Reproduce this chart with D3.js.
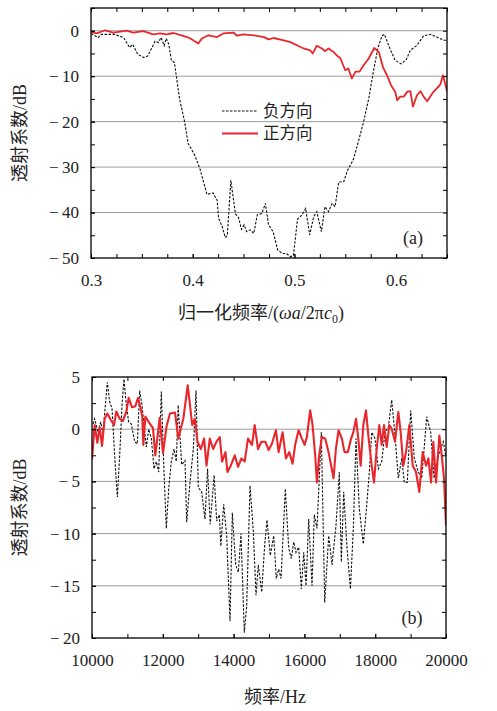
<!DOCTYPE html>
<html>
<head>
<meta charset="utf-8">
<script src="https://cdn.jsdelivr.net/npm/d3@7"></script>
<style>
  body { margin: 0; background: #fff; }
  svg { display: block; }
  text { font-family: "Liberation Serif", "DejaVu Serif", serif; fill: #222; }
  .cjk { font-family: "Noto Sans CJK SC", sans-serif; }
</style>
</head>
<body>
<svg></svg>
<script>
var width = 497,
    height = 711;

// panel (a): normalised frequency vs transmission (dB)
var negA = [[0.300,-0.6],[0.307,-1.5],[0.310,-0.8],[0.323,-0.8],[0.332,-1.5],[0.338,-3.7],[0.341,-3.0],
  [0.346,-5.2],[0.352,-5.9],[0.356,-5.5],[0.363,-2.3],[0.366,-2.6],[0.369,-1.5],[0.372,-3.3],[0.374,-1.7],
  [0.3765,-3.0],[0.379,-6.5],[0.382,-7.0],[0.387,-14.9],[0.392,-20],[0.3955,-24.8],[0.402,-27.4],
  [0.407,-30.3],[0.414,-36],[0.420,-35.7],[0.424,-37.3],[0.4255,-41.3],[0.429,-43.1],[0.432,-45.5],
  [0.434,-45.1],[0.4375,-32.9],[0.442,-40.3],[0.445,-41.1],[0.448,-43.7],[0.4505,-42.7],[0.453,-44.2],
  [0.4565,-43.8],[0.460,-44.6],[0.4635,-40.5],[0.468,-40.2],[0.4715,-38],[0.4745,-42.7],[0.479,-44.2],
  [0.4835,-48.2],[0.488,-49],[0.492,-49],[0.496,-49.7],[0.499,-49.5],[0.503,-41.5],[0.5075,-40.5],
  [0.511,-39.1],[0.515,-44.9],[0.519,-40.9],[0.522,-39.8],[0.5265,-44.2],[0.530,-38.7],[0.5335,-39.8],
  [0.537,-38],[0.540,-38.7],[0.5435,-33.3],[0.5485,-33.2],[0.552,-30.8],[0.558,-28.3],[0.563,-24.3],
  [0.568,-20],[0.573,-15],[0.578,-8.5],[0.582,-3.9],[0.586,-1.1],[0.5885,-0.8],[0.590,-1.7],[0.594,-4.0],
  [0.599,-6.5],[0.605,-7.3],[0.610,-6.3],[0.614,-4.3],[0.6205,-3.2],[0.627,-1.1],[0.634,-0.8],
  [0.640,-1.4],[0.647,-2.1],[0.650,-2.1]];

var posA = [[0.300,-0.3],[0.3055,-0.6],[0.314,0.1],[0.322,-0.4],[0.335,0],[0.3415,-0.4],[0.3515,-0.1],
  [0.361,-0.8],[0.368,-0.6],[0.3745,-0.8],[0.381,-0.5],[0.389,-1.0],[0.396,-1.5],[0.4005,-2.1],
  [0.4055,-2.8],[0.409,-1.7],[0.4155,-1.0],[0.424,-1.4],[0.430,-0.6],[0.440,-0.4],[0.4435,-1.1],
  [0.450,-0.8],[0.460,-1.0],[0.470,-1.4],[0.4745,-1.9],[0.4795,-1.6],[0.4895,-2.1],[0.496,-2.5],
  [0.5025,-3.2],[0.509,-3.9],[0.5155,-4.3],[0.518,-5.0],[0.522,-3.3],[0.527,-3.9],[0.530,-4.5],
  [0.5335,-3.9],[0.5385,-4.7],[0.542,-5.5],[0.545,-6.0],[0.550,-8.7],[0.553,-8.3],[0.5565,-10.5],
  [0.560,-9.0],[0.564,-9.0],[0.568,-7.6],[0.573,-6.1],[0.5785,-3.8],[0.583,-4.7],[0.587,-8.0],
  [0.591,-9.8],[0.595,-12],[0.599,-13.4],[0.601,-15.3],[0.604,-14.5],[0.6075,-14.5],[0.611,-13.4],
  [0.614,-13.3],[0.6165,-16.7],[0.6205,-14.2],[0.624,-13.3],[0.627,-14.5],[0.6305,-15.5],
  [0.6355,-13.8],[0.640,-12.7],[0.6435,-11.8],[0.646,-9.8],[0.6485,-11.9],[0.650,-13.3]];

// panel (b): frequency (Hz) vs transmission (dB)
var negB = [[10030,0.5],[10075,1.0],[10170,-0.3],[10245,0.7],[10311,-0.4],[10377,2.3],[10433,4.5],
  [10499,2.6],[10565,2.0],[10640,-2.5],[10716,-6.5],[10782,-2.5],[10848,2.3],[10904,4.8],[10970,2.3],
  [11036,0.7],[11111,0.5],[11206,-1.2],[11280,-1.4],[11347,3.7],[11413,2.3],[11469,0.4],[11535,-1.7],
  [11601,0.0],[11676,-0.9],[11752,-3.8],[11817,-3.1],[11884,-4.1],[11958,3.6],[12034,-4.1],
  [12099,-9.5],[12167,-5.7],[12240,-3.1],[12317,-1.9],[12381,-3.1],[12435,2.3],[12533,-3.4],
  [12627,-3.0],[12675,-8.9],[12768,-5.1],[12862,-1.9],[12938,3.7],[13003,-5.6],[13098,-6.0],
  [13192,-8.6],[13265,-3.8],[13340,-9.1],[13450,-4.4],[13522,-8.8],[13596,-8.2],[13640,-11.2],
  [13720,-7.2],[13804,-10.2],[13899,-18.4],[13964,-8.0],[14059,-13.0],[14134,-13.7],[14209,-10],
  [14303,-19.5],[14370,-16.9],[14464,-5.4],[14557,-9.8],[14633,-15.9],[14698,-13.0],[14794,-15.6],
  [14878,-11.1],[14944,-8.7],[15037,-12.1],[15133,-10.2],[15206,-14.3],[15274,-13.4],[15339,-14.3],
  [15461,-5.7],[15557,-11.4],[15630,-12.4],[15698,-10.8],[15763,-11.8],[15839,-11.3],[15913,-15.3],
  [15981,-11.8],[16046,-15.0],[16122,-8.6],[16215,-15.0],[16280,-8.2],[16356,-9.5],[16478,-0.3],
  [16574,-16.6],[16687,-10.2],[16780,-13.0],[16893,-9.2],[16986,-4.1],[17043,-12.7],[17110,-6.0],
  [17204,-11.4],[17300,-15.3],[17382,-9.5],[17458,-0.9],[17551,-7.6],[17664,-11.0],[17760,-7.3],
  [17834,-4.1],[17902,-0.3],[17995,-0.9],[18088,-3.8],[18184,-3.1],[18277,-0.3],[18370,0.2],
  [18467,2.8],[18560,-0.6],[18653,-4.7],[18749,-2.8],[18822,-5.1],[18907,-5.1],[19003,1.8],
  [19105,-2.8],[19218,-4.1],[19314,-4.7],[19455,1.2],[19568,-0.3],[19662,-4.7],[19783,-2.5],
  [19924,-1.2],[19990,-2.5]];

var posB = [[10000,-2.9],[10075,0.4],[10150,-1.3],[10217,0.2],[10283,-1.6],[10358,1.0],[10433,1.5],
  [10527,0.9],[10622,0.4],[10687,1.7],[10782,1.0],[10876,0.8],[10970,1.7],[11036,3.0],[11130,2.1],
  [11224,2.2],[11300,3.0],[11375,2.0],[11420,1.2],[11450,-1.5],[11507,1.2],[11600,0.7],[11723,0.1],
  [11788,-2.5],[11845,-0.9],[11912,1.1],[12006,-2.3],[12107,0.3],[12203,1.5],[12345,1.6],[12438,-0.9],
  [12580,1.0],[12704,4.2],[12768,2.3],[12832,0.4],[12905,1.0],[12980,-1.2],[13074,-1.9],[13167,-0.9],
  [13235,-3.5],[13328,-0.9],[13422,-1.9],[13516,-1.2],[13610,-0.75],[13675,-3.1],[13770,-2.2],
  [13826,-4.1],[13920,-3.5],[14032,-2.5],[14125,-3.6],[14220,-2.8],[14313,-3.1],[14407,-0.9],
  [14520,-1.5],[14595,0.4],[14690,-1.9],[14785,-1.2],[14896,-1.2],[14990,-2.0],[15083,-1.4],
  [15196,-0.1],[15271,-2.2],[15384,-0.3],[15478,-2.8],[15571,-2.2],[15666,-3.3],[15739,-1.5],
  [15836,-0.1],[15929,-0.9],[16005,-1.5],[16070,-0.75],[16163,1.8],[16231,0.4],[16305,-2.5],
  [16353,-5.1],[16418,-2.5],[16494,-0.75],[16587,-0.9],[16683,-2.2],[16756,-3.5],[16824,-4.7],
  [16889,-1.9],[16965,-0.1],[17058,-0.9],[17134,-2.2],[17227,-2.2],[17320,-0.9],[17382,-0.3],
  [17458,1.0],[17523,-0.9],[17590,-3.5],[17664,0.4],[17740,1.8],[17805,-0.6],[17902,-3.5],
  [17966,-5.1],[18042,-1.9],[18116,0.4],[18184,-1.5],[18249,0.4],[18325,-1.7],[18398,0.4],
  [18466,0.05],[18560,-1.2],[18653,1.65],[18720,-0.3],[18794,-3.5],[18870,-2.2],[18964,0.4],
  [19060,-3.5],[19153,-4.1],[19246,-6.0],[19342,-2.2],[19437,-3.5],[19502,-2.8],[19578,-5.1],
  [19642,-1.2],[19719,-5.1],[19812,-0.6],[19879,-2.5],[19944,-4.7],[20000,-9.2]];

// ticks
var xTicksA = [0.3, 0.4, 0.5, 0.6];
var xMinorA = d3.range(0, 15).map(function(i){ return 0.3 + i * 0.025; });
var yTicksA = [0, -10, -20, -30, -40, -50];
var yMinorA = d3.range(-50, 6, 5);
var xTicksB = [10000, 12000, 14000, 16000, 18000, 20000];
var xMinorB = d3.range(10000, 20001, 1000);
var yTicksB = [5, 0, -5, -10, -15, -20];
var yMinorB = d3.range(-20, 5.1, 2.5);

var legendLabels = ["负方向", "正方向"];

var svg = d3.select("svg")
    .attr("width", width)
    .attr("height", height);

function fmt(v) {
  if (v < 0) return "\u2212\u2009" + Math.abs(v);
  return String(v);
}

function drawPanel(cfg) {
  var x = cfg.x, y = cfg.y;
  var x0 = x.range()[0], x1 = x.range()[1], y0 = y.range()[1], y1 = y.range()[0];
  var g = svg.append("g");

  g.append("clipPath").attr("id", cfg.id)
    .append("rect")
      .attr("x", x0).attr("y", y0)
      .attr("width", x1 - x0).attr("height", y1 - y0);

  //grid
  g.selectAll(".grid")
      .data(cfg.grid)
    .enter().append("line")
      .attr("x1", x0).attr("x2", x1)
      .attr("y1", function(d){ return y(d); })
      .attr("y2", function(d){ return y(d); })
      .attr("stroke", "#9c9c9c")
      .attr("stroke-width", 1);

  var line = d3.line()
    .x(function(d){ return x(d[0]); })
    .y(function(d){ return y(d[1]); });

  var lines = g.append("g").attr("clip-path", "url(#" + cfg.id + ")");
  lines.append("path")
    .datum(cfg.neg)
    .attr("fill", "none")
    .attr("stroke", "#111")
    .attr("stroke-width", 1.1)
    .attr("stroke-dasharray", "2.5,1.5")
    .attr("d", line);
  lines.append("path")
    .datum(cfg.pos)
    .attr("fill", "none")
    .attr("stroke", "#e8262b")
    .attr("stroke-width", cfg.redWidth)
    .attr("stroke-linejoin", "round")
    .attr("d", line);

  //axes, ticks pointing inward
  function ax(axis, tr) {
    var a = g.append("g").attr("transform", tr).call(axis);
    a.attr("font-family", null);
    a.select(".domain").remove();
    a.selectAll("line").attr("stroke", "#000").attr("stroke-width", 1);
    a.selectAll("text").attr("font-size", 17).attr("fill", "#222")
      .style("font-family", "'Liberation Serif', serif");
    return a;
  }
  ax(d3.axisBottom(x).tickValues(cfg.xMinor).tickSize(-4).tickFormat(""), "translate(0," + y1 + ")");
  ax(d3.axisBottom(x).tickValues(cfg.xTicks).tickSize(-4).tickPadding(16).tickFormat(cfg.xFmt), "translate(0," + y1 + ")");
  ax(d3.axisTop(x).tickValues(cfg.xMinor).tickSize(-4).tickFormat(""), "translate(0," + y0 + ")");
  ax(d3.axisLeft(y).tickValues(cfg.yMinor).tickSize(-4).tickFormat(""), "translate(" + x0 + ",0)");
  ax(d3.axisLeft(y).tickValues(cfg.yTicks).tickSize(-4).tickPadding(12).tickFormat(fmt), "translate(" + x0 + ",0)");
  ax(d3.axisRight(y).tickValues(cfg.yMinor).tickSize(-4).tickFormat(""), "translate(" + x1 + ",0)");

  g.append("rect")
    .attr("x", x0).attr("y", y0)
    .attr("width", x1 - x0).attr("height", y1 - y0)
    .attr("fill", "none")
    .attr("stroke", "#000")
    .attr("stroke-width", 1.3);

  //panel letter
  g.append("text")
    .attr("x", x1 - 34).attr("y", y1 - 14)
    .attr("text-anchor", "middle")
    .attr("font-size", 18)
    .text(cfg.letter);

  //y title
  var yt = g.append("text")
    .attr("transform", "translate(26," + ((y0 + y1) / 2) + ") rotate(-90)")
    .attr("text-anchor", "middle")
    .attr("font-size", 18);
  yt.append("tspan").attr("class", "cjk").text("透射系数");
  yt.append("tspan").text("/dB");

  return g;
}

var xA = d3.scaleLinear().domain([0.3, 0.65]).range([91, 447]);
var yA = d3.scaleLinear().domain([-50, 5]).range([258, 8]);
var xB = d3.scaleLinear().domain([10000, 20000]).range([92, 446]);
var yB = d3.scaleLinear().domain([-20, 5]).range([638, 377]);

var gA = drawPanel({id: "clipA", x: xA, y: yA, neg: negA, pos: posA, redWidth: 1.8,
  grid: [0, -10, -20, -30, -40], xTicks: xTicksA, xMinor: xMinorA, yTicks: yTicksA, yMinor: yMinorA,
  xFmt: d3.format(".1f"), letter: "(a)"});
var gB = drawPanel({id: "clipB", x: xB, y: yB, neg: negB, pos: posB, redWidth: 2.1,
  grid: [0, -5, -10, -15], xTicks: xTicksB, xMinor: xMinorB, yTicks: yTicksB, yMinor: yMinorB,
  xFmt: d3.format("d"), letter: "(b)"});

//x titles
var xtA = svg.append("text")
  .attr("x", 261).attr("y", 319)
  .attr("text-anchor", "middle")
  .attr("font-size", 18);
xtA.append("tspan").attr("class", "cjk").text("归一化频率");
xtA.append("tspan").text("/(");
xtA.append("tspan").attr("font-style", "italic").text("ωa");
xtA.append("tspan").text("/2π");
xtA.append("tspan").attr("font-style", "italic").text("c");
xtA.append("tspan").attr("font-size", 12).attr("dy", 4).text("0");
xtA.append("tspan").attr("dy", -4).text(")");

var xtB = svg.append("text")
  .attr("x", 275).attr("y", 703)
  .attr("text-anchor", "middle")
  .attr("font-size", 18);
xtB.append("tspan").attr("class", "cjk").text("频率");
xtB.append("tspan").text("/Hz");

//legend
var leg = svg.append("g");
leg.selectAll("line")
    .data(legendLabels)
  .enter().append("line")
    .attr("x1", 222).attr("x2", 258)
    .attr("y1", function(d, i){ return 111 + i * 22.5; })
    .attr("y2", function(d, i){ return 111 + i * 22.5; })
    .attr("stroke", function(d, i){ return i ? "#e8262b" : "#111"; })
    .attr("stroke-width", function(d, i){ return i ? 1.8 : 1.1; })
    .attr("stroke-dasharray", function(d, i){ return i ? null : "2.5,1.5"; });
leg.selectAll("text")
    .data(legendLabels)
  .enter().append("text")
    .attr("class", "cjk")
    .attr("x", 263)
    .attr("y", function(d, i){ return 111 + i * 22.5; })
    .attr("dy", "0.36em")
    .attr("font-size", 16.5)
    .text(function(d){ return d; });
</script>
</body>
</html>
